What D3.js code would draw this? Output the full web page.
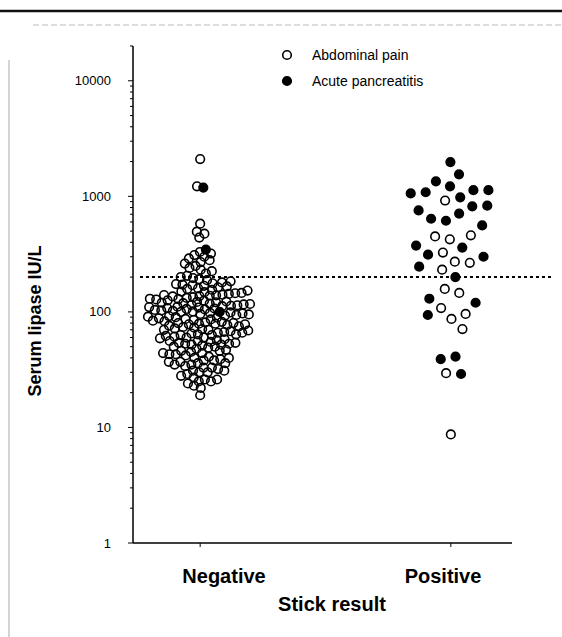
<!DOCTYPE html>
<html>
<head>
<meta charset="utf-8">
<script src="https://cdn.jsdelivr.net/npm/d3@7"></script>
<style>
  body { margin: 0; background: #fff; }
  text { font-family: "Liberation Sans", Arial, sans-serif; fill: #000; }
</style>
</head>
<body>
<div id="chart"></div>
<script>
// groups on the x axis
const groups = ["Negative", "Positive"];

// serum lipase (IU/L)
const negativePain = [2100, 1220, 580, 495, 475, 440,
  330, 320, 310, 300, 290, 280, 270, 262, 250, 240, 232, 225, 215,
  205, 200, 196, 192, 188, 184, 180, 177, 174, 172, 170, 168,
  166, 163, 160, 158, 155, 153, 150, 148, 146, 145, 143, 141, 140, 139, 138, 137,
  136, 134, 132, 130, 129, 128, 126, 125, 123, 122, 121, 120, 119, 118, 117, 116, 115, 114,
  113, 112, 111, 110, 109, 108, 107, 106, 105, 104, 103, 102, 101, 100, 99, 98, 97, 96, 95, 94,
  93, 92, 91, 90, 89, 88, 87, 86, 85, 84, 83, 82, 81, 80, 80, 79, 79, 78, 78, 77,
  76, 75, 74, 73, 72, 71, 70, 70, 69, 68, 67, 66, 66, 65, 64, 64, 63, 63,
  62, 61, 60, 60, 59, 58, 57, 56, 56, 55, 54, 54, 53, 53, 52, 52,
  51, 50, 50, 49, 48, 47, 46, 46, 45, 44, 44, 43, 43, 42,
  41, 40, 40, 39, 38, 38, 37, 37, 36, 36, 35, 35,
  34, 33, 33, 32, 31, 31, 30, 30, 29, 28,
  27, 26, 26, 25, 25, 24, 23, 22, 19];
const negativePancreatitis = [1190, 346, 100];
const positivePain = [920, 460, 450, 425, 326, 272, 266, 232, 158, 146, 108, 96, 87, 71, 29.5, 8.7];
const positivePancreatitis = [1980, 1550, 1350, 1220, 1130, 1130, 1085, 1060, 980, 830, 820,
  755, 710, 640, 615, 560, 375, 360, 313, 300, 246, 200, 130, 120, 94, 41, 39, 29];

const yTicks = [1, 10, 100, 1000, 10000];
const cutoff = 200;

const width = 562, height = 637;

const svg = d3.select("#chart").append("svg")
  .attr("width", width)
  .attr("height", height);

// scan edges
svg.append("line").attr("x1", 0).attr("x2", width).attr("y1", 11).attr("y2", 11)
  .attr("stroke", "#111").attr("stroke-width", 2.5);
svg.append("line").attr("x1", 33).attr("x2", width).attr("y1", 25).attr("y2", 25)
  .attr("stroke", "#bbb").attr("stroke-width", 1).attr("stroke-dasharray", "6,3");
svg.append("line").attr("x1", 9).attr("x2", 9).attr("y1", 60).attr("y2", height)
  .attr("stroke", "#aaa").attr("stroke-width", 1);

const x = d3.scalePoint()
  .domain(groups)
  .range([140, 511])
  .padding(0.24);

const xLabel = d3.scalePoint()
  .domain(groups)
  .range([224, 443]);

const y = d3.scaleLog()
  .domain([1, 20000])
  .range([543, 46]);

// axes
const yAxis = svg.append("g").attr("transform", "translate(133,0)");
yAxis.append("line").attr("y1", y(1)).attr("y2", y(20000)).attr("stroke", "#000").attr("stroke-width", 1.5);
const minor = y.ticks().filter(t => t <= 20000);
yAxis.selectAll(".minor").data(minor).enter().append("line")
  .attr("class", "minor")
  .attr("x1", d => yTicks.includes(d) ? -5 : -3).attr("x2", 0)
  .attr("y1", d => y(d)).attr("y2", d => y(d))
  .attr("stroke", "#000").attr("stroke-width", 1);
yAxis.selectAll(".lbl").data(yTicks).enter().append("text")
  .attr("class", "lbl")
  .attr("x", -22).attr("y", d => y(d))
  .attr("dy", "0.35em")
  .attr("text-anchor", "end")
  .style("font-size", "13px")
  .text(d => d);

const xAxis = svg.append("g").attr("transform", "translate(0," + y(1) + ")");
xAxis.append("line").attr("x1", 133).attr("x2", 512).attr("stroke", "#000").attr("stroke-width", 1.5);
xAxis.selectAll(".tk").data(groups).enter().append("line")
  .attr("x1", d => x(d)).attr("x2", d => x(d)).attr("y1", 0).attr("y2", 4)
  .attr("stroke", "#000");
xAxis.selectAll(".lbl").data(groups).enter().append("text")
  .attr("x", d => xLabel(d)).attr("y", 40)
  .attr("text-anchor", "middle")
  .style("font-size", "20px").style("font-weight", "bold")
  .text(d => d);

svg.append("text")
  .attr("x", 332).attr("y", 611)
  .attr("text-anchor", "middle")
  .style("font-size", "20px").style("font-weight", "bold")
  .text("Stick result");

svg.append("text")
  .attr("transform", "translate(41,321) rotate(-90)")
  .attr("text-anchor", "middle")
  .style("font-size", "18px").style("font-weight", "bold")
  .text("Serum lipase IU/L");

// cut-off line
svg.append("line")
  .attr("x1", 140).attr("x2", 552)
  .attr("y1", y(cutoff)).attr("y2", y(cutoff))
  .attr("stroke", "#000").attr("stroke-width", 2)
  .attr("stroke-dasharray", "3,3");

// points, spread sideways like a dot plot
const nodes = [];
const add = (vals, group, filled) => vals.forEach(v => nodes.push({value: v, group: group, filled: filled}));
add(negativePain, "Negative", false);
add(negativePancreatitis, "Negative", true);
add(positivePain, "Positive", false);
add(positivePancreatitis, "Positive", true);
nodes.forEach(d => { d.x = x(d.group); d.fy = y(d.value); });

const sim = d3.forceSimulation(nodes)
  .force("x", d3.forceX(d => x(d.group)).strength(0.06))
  .force("collide", d3.forceCollide(d => d.group === "Negative" ? 3.2 : 7.5))
  .stop();
for (let i = 0; i < 400; i++) sim.tick();

const pts = svg.append("g");
pts.selectAll("circle")
  .data(nodes.filter(d => !d.filled).concat(nodes.filter(d => d.filled)))
  .enter().append("circle")
  .attr("cx", d => d.x)
  .attr("cy", d => y(d.value))
  .attr("r", 4.3)
  .attr("fill", d => d.filled ? "#000" : "none")
  .attr("stroke", "#000")
  .attr("stroke-width", 1.6);

// legend
const legend = svg.selectAll(".legend")
  .data([["Abdominal pain", false], ["Acute pancreatitis", true]])
  .enter().append("g")
  .attr("transform", (d, i) => "translate(287," + (55 + i * 26) + ")");
legend.append("circle")
  .attr("r", 4.3)
  .attr("fill", d => d[1] ? "#000" : "none")
  .attr("stroke", "#000").attr("stroke-width", 1.6);
legend.append("text")
  .attr("x", 25).attr("dy", "0.35em")
  .style("font-size", "14px")
  .text(d => d[0]);
</script>
</body>
</html>
